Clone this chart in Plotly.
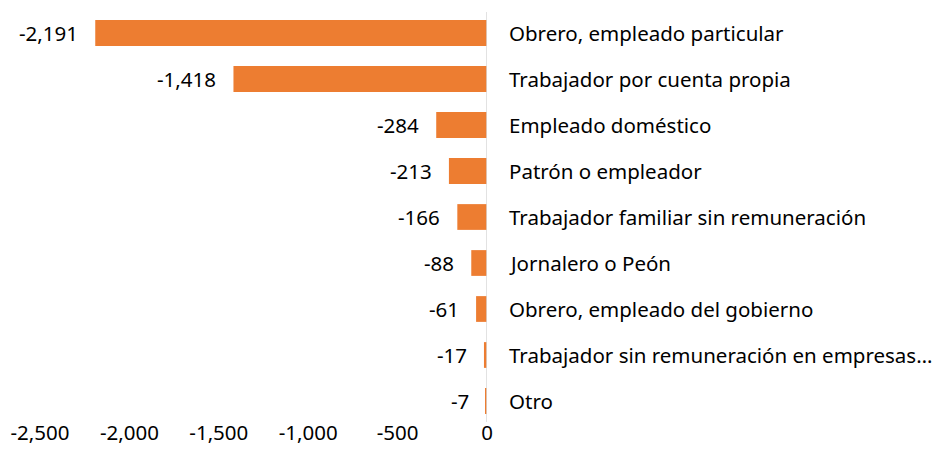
import plotly.graph_objects as go

categories = [
    "Obrero, empleado particular",
    "Trabajador por cuenta propia",
    "Empleado doméstico",
    "Patrón o empleador",
    "Trabajador familiar sin remuneración",
    "Jornalero o Peón",
    "Obrero, empleado del gobierno",
    "Trabajador sin remuneración en empresas…",
    "Otro",
]
values = [-2191, -1418, -284, -213, -166, -88, -61, -17, -7]
value_labels = ["-2,191", "-1,418", "-284", "-213", "-166", "-88", "-61", "-17", "-7"]
tick_vals = [-2500, -2000, -1500, -1000, -500, 0]
tick_text = ["-2,500", "-2,000", "-1,500", "-1,000", "-500", "0"]

FONT = "Noto Sans"
FS = 20.5
COLOR = "#ED7D31"

fig = go.Figure()
fig.add_trace(go.Bar(
    x=values, y=categories, orientation="h",
    marker=dict(color=COLOR, line=dict(width=0)),
    width=0.56,
    hoverinfo="x+y",
))

for c, v, t in zip(categories, values, value_labels):
    fig.add_annotation(x=v, y=c, text=t, showarrow=False, xanchor="right",
                       xshift=-15, font=dict(family=FONT, size=FS, color="#000000"))
    fig.add_annotation(x=0, y=c, text=c, showarrow=False, xanchor="left",
                       xshift=20, font=dict(family=FONT, size=FS, color="#000000"))

fig.add_shape(type="line", x0=0, x1=0, xref="x", y0=0.005, y1=0.995, yref="paper",
              line=dict(color="#D9D9D9", width=1.5))

# page body has an 8px margin, so the plot area is shifted to compensate
fig.update_layout(
    width=940, height=465,
    margin=dict(l=32, r=461, t=2, b=49),
    paper_bgcolor="white", plot_bgcolor="white",
    showlegend=False,
    font=dict(family=FONT, size=FS, color="#000000"),
    xaxis=dict(range=[-2500, 0], tickvals=tick_vals, ticktext=tick_text,
               showgrid=False, zeroline=False, showline=False, ticks="",
               automargin=False, ticklabelstandoff=-6,
               tickfont=dict(family=FONT, size=FS, color="#000000")),
    yaxis=dict(autorange="reversed", showticklabels=False, showgrid=False,
               automargin=False,
               zeroline=False, showline=False, ticks=""),
    bargap=0.44,
)

fig.write_html("out.html")
